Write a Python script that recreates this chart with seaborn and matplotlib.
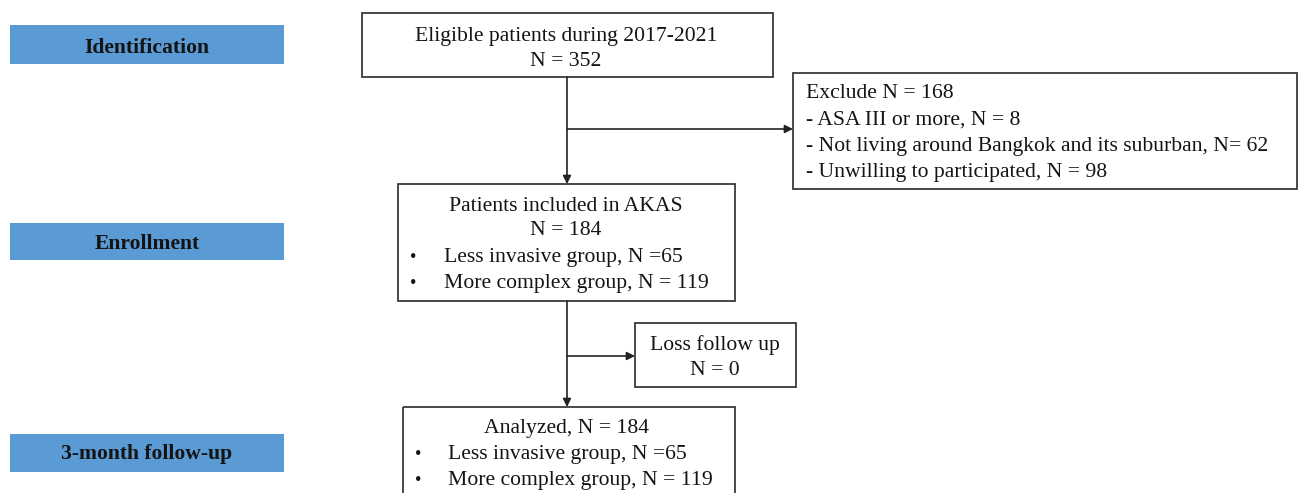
import matplotlib
matplotlib.use("Agg")
import matplotlib.pyplot as plt
from matplotlib.patches import Rectangle
import seaborn as sns

sns.set_theme(style="white")
plt.rcParams['font.family'] = ['Liberation Serif', 'DejaVu Serif']

# ---- content ----
stage_labels = ["Identification", "Enrollment", "3-month follow-up"]
eligible_lines = ["Eligible patients during 2017-2021", "N = 352"]
exclude_lines = ["Exclude N = 168", "- ASA III or more, N = 8",
                 "- Not living around Bangkok and its suburban, N= 62",
                 "- Unwilling to participated, N = 98"]
included_head = ["Patients included in AKAS", "N = 184"]
included_bullets = ["Less invasive group, N =65", "More complex group, N = 119"]
loss_lines = ["Loss follow up", "N = 0"]
analyzed_head = ["Analyzed, N = 184"]
analyzed_bullets = ["Less invasive group, N =65", "More complex group, N = 119"]

W, H = 1298, 493
fig = plt.figure(figsize=(W / 100, H / 100), dpi=100)
ax = fig.add_axes([0, 0, 1, 1])
ax.set_xlim(0, W)
ax.set_ylim(H, 0)
ax.axis("off")

FS = 15.6
BLUE = "#5b9bd5"
EDGE = "#3a3a3a"
TXT = "#141414"

def box(x0, y0, x1, y1):
    ax.add_patch(Rectangle((x0, y0), x1 - x0, y1 - y0, fill=False,
                           edgecolor=EDGE, linewidth=1.3))

def txt(x, y, s, ha="center", **kw):
    ax.text(x, y, s, ha=ha, va="baseline", fontsize=kw.pop("fs", FS), color=TXT, **kw)

# stage boxes
stage_y = [(25, 64), (223, 260), (434, 472)]
stage_base = [53, 249, 459]
for lab, (y0, y1), b in zip(stage_labels, stage_y, stage_base):
    ax.add_patch(Rectangle((10, y0), 274, y1 - y0, facecolor=BLUE, edgecolor="none"))
    txt(147, b, lab, fontweight="bold")

# eligible box
box(362, 13, 773, 77)
for t, y in zip(eligible_lines, [41.5, 66]):
    txt(566, y, t)

# exclude box
box(793, 73, 1297, 189)
for t, y in zip(exclude_lines, [98, 125, 151, 177]):
    txt(806, y, t, ha="left")

# included box
box(398, 184, 735, 301)
for t, y in zip(included_head, [211, 235]):
    txt(566, y, t)
for t, y in zip(included_bullets, [262, 288]):
    txt(413, y, "\u2022", fs=FS * 0.85)
    txt(444, y, t, ha="left")

# loss box
box(635, 323, 796, 387)
for t, y in zip(loss_lines, [350, 375]):
    txt(715, y, t)

# analyzed box (extends beyond bottom)
box(403, 407, 735, 510)
for t, y in zip(analyzed_head, [433]):
    txt(567, y, t)
for t, y in zip(analyzed_bullets, [459, 485]):
    txt(418, y, "\u2022", fs=FS * 0.85)
    txt(448, y, t, ha="left")

# arrows
def arrow(x0, y0, x1, y1):
    ax.annotate("", xy=(x1, y1), xytext=(x0, y0),
                arrowprops=dict(arrowstyle="-|>", color="#222222", lw=1.2,
                                mutation_scale=12, shrinkA=0, shrinkB=0))

arrow(567, 77, 567, 184)
arrow(567, 129, 793, 129)
arrow(567, 301, 567, 407)
arrow(567, 356, 635, 356)

fig.savefig("out.png", dpi=100)
